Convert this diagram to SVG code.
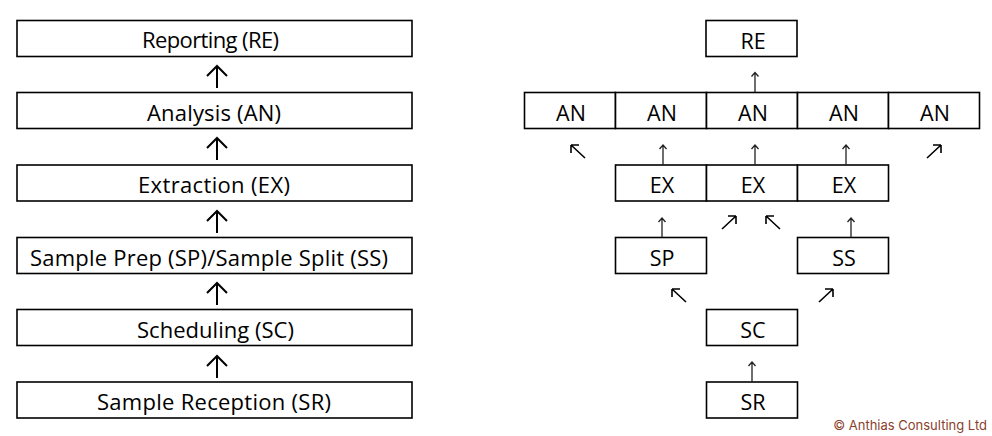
<svg xmlns="http://www.w3.org/2000/svg" width="992" height="436" viewBox="0 0 992 436">
<style>
.box{fill:#fff;stroke:#000;stroke-width:1.6}
.t{font-family:"Open Sans","Liberation Sans",sans-serif;font-size:22px;fill:#000;text-anchor:middle}
.r{font-size:21.5px}
.big{fill:none;stroke:#000;stroke-width:2}
.sm{fill:none;stroke:#222;stroke-width:1.3}
.dg{fill:none;stroke:#000;stroke-width:1.6}
.copy{font-family:Inter,"Liberation Sans",sans-serif;font-size:13px;fill:#8b3f2c;text-anchor:end}
</style>
<rect width="992" height="436" fill="#fff"/>
<g id="L-RE"><rect class="box" x="17" y="20.5" width="395" height="36"/><text class="t" x="210.5" y="48" textLength="137">Reporting (RE)</text></g>
<g id="L-AN"><rect class="box" x="17" y="92.5" width="395" height="36"/><text class="t" x="214" y="121" textLength="134">Analysis (AN)</text></g>
<g id="L-EX"><rect class="box" x="17" y="165" width="395" height="36"/><text class="t" x="214" y="193" textLength="152">Extraction (EX)</text></g>
<g id="L-SPSS"><rect class="box" x="17" y="237.5" width="395" height="36"/><text class="t" x="209" y="266" textLength="358">Sample Prep (SP)/Sample Split (SS)</text></g>
<g id="L-SC"><rect class="box" x="17" y="309.5" width="395" height="36"/><text class="t" x="215.5" y="338" textLength="157">Scheduling (SC)</text></g>
<g id="L-SR"><rect class="box" x="17" y="382" width="395" height="36"/><text class="t" x="214" y="410" textLength="234">Sample Reception (SR)</text></g>

<g id="R-RE"><rect class="box" x="706" y="20.5" width="91" height="36"/><text class="t r" x="753" y="49">RE</text></g>
<g id="R-AN1"><rect class="box" x="524.5" y="92.5" width="91" height="36"/><text class="t r" x="571" y="121">AN</text></g>
<g id="R-AN2"><rect class="box" x="615.5" y="92.5" width="91" height="36"/><text class="t r" x="662" y="121">AN</text></g>
<g id="R-AN3"><rect class="box" x="706.5" y="92.5" width="91" height="36"/><text class="t r" x="753" y="121">AN</text></g>
<g id="R-AN4"><rect class="box" x="797.5" y="92.5" width="91" height="36"/><text class="t r" x="844" y="121">AN</text></g>
<g id="R-AN5"><rect class="box" x="888.5" y="92.5" width="91" height="36"/><text class="t r" x="935" y="121">AN</text></g>
<g id="R-EX1"><rect class="box" x="615.5" y="165" width="91" height="36"/><text class="t r" x="662" y="193">EX</text></g>
<g id="R-EX2"><rect class="box" x="706.5" y="165" width="91" height="36"/><text class="t r" x="753" y="193">EX</text></g>
<g id="R-EX3"><rect class="box" x="797.5" y="165" width="91" height="36"/><text class="t r" x="844" y="193">EX</text></g>
<g id="R-SP"><rect class="box" x="615.5" y="237.5" width="91" height="36"/><text class="t r" x="662" y="266">SP</text></g>
<g id="R-SS"><rect class="box" x="797.5" y="237.5" width="91" height="36"/><text class="t r" x="844" y="266">SS</text></g>
<g id="R-SC"><rect class="box" x="706.5" y="309.5" width="91" height="36"/><text class="t r" x="753" y="338">SC</text></g>
<g id="R-SR"><rect class="box" x="706.5" y="382" width="91" height="36"/><text class="t r" x="753" y="410">SR</text></g>

<g id="connectors">
<path class="big" d="M217 88V66M207 76L217 66L227 76"/>
<path class="big" d="M217 160V138M207 148L217 138L227 148"/>
<path class="big" d="M217 233V211M207 221L217 211L227 221"/>
<path class="big" d="M217 305V283M207 293L217 283L227 293"/>
<path class="big" d="M217 378V356M207 366L217 356L227 366"/>

<path class="sm" d="M755 92V72.5M751.5 76.5L755 72.5L758.5 76.5"/>
<path class="sm" d="M663 165V145M659.5 149L663 145L666.5 149"/>
<path class="sm" d="M755 165V145M751.5 149L755 145L758.5 149"/>
<path class="sm" d="M846 165V145M842.5 149L846 145L849.5 149"/>
<path class="sm" d="M662 237V218M658.5 222L662 218L665.5 222"/>
<path class="sm" d="M851 237V218M847.5 222L851 218L854.5 222"/>
<path class="sm" d="M752 382V362M748.5 366L752 362L755.5 366"/>

<path class="dg" d="M585 158L571 145M571 145H579M571 145V153"/>
<path class="dg" d="M927 158L941 145M941 145H933M941 145V153"/>
<path class="dg" d="M722 229L736 216M736 216H728M736 216V224"/>
<path class="dg" d="M780 229L766 216M766 216H774M766 216V224"/>
<path class="dg" d="M686 302L672 289M672 289H680M672 289V297"/>
<path class="dg" d="M819 302L833 289M833 289H825M833 289V297"/>
</g>
<text class="copy" x="987" y="430">© Anthias Consulting Ltd</text>
</svg>
